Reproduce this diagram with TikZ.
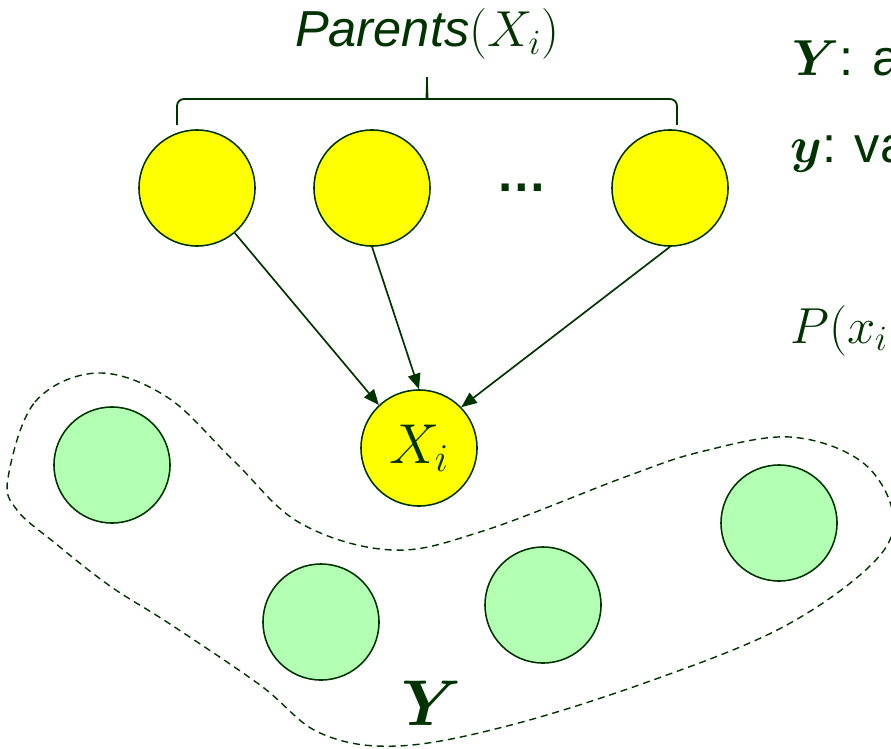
\RequirePackage{fix-cm}
\documentclass[tikz,border=0pt]{standalone}
\usepackage{amsmath}
\usepackage[no-math]{fontspec}
\setmainfont{Liberation Sans}
\usepackage{tikz}
\usetikzlibrary{arrows.meta}
\definecolor{dkgreen}{RGB}{0,51,0}
\definecolor{ylw}{RGB}{255,255,0}
\definecolor{ltgreen}{RGB}{179,255,179}

\begin{document}
\begin{tikzpicture}[x=0.025cm, y=-0.025cm,
    font=\fontsize{36}{40}\selectfont, >={Triangle[length=11pt,width=9pt]},
    var/.style={draw=dkgreen, line width=1.1pt, circle, minimum size=2.9cm, inner sep=0pt, text=dkgreen},
    par/.style={var, fill=ylw},
    obs/.style={var, fill=ltgreen},
    txt/.style={inner sep=0pt, text=dkgreen},
    link/.style={->, draw=dkgreen, line width=1.2pt}]
  \clip (0,0) rectangle (891,748);
  % parents and child
  \node[par] (p1) at (197,188) {};
  \node[par] (p2) at (372,188) {};
  \node[txt, anchor=base] (dots) at (522,191) {\textbf{…}};
  \node[par] (pn) at (670,188) {};
  \node[par] (xi) at (419,448) {\fontsize{40}{44}\selectfont$X_i$};
  \draw[link] (p1.-50) -- (xi.133);
  \draw[link] (p2.south) -- (xi.north);
  \draw[link] (pn.south) -- (xi.44);
  % brace over the parents
  \node[txt, anchor=base] (plbl) at (427,47) {\textit{Parents}$(X_i)$};
  \draw[dkgreen, line width=1.3pt, rounded corners=5pt] (177,125) -- (177,99) -- (420,99)
    .. controls (426,99) and (427,92) .. (427,73) .. controls (427,92) and (428,99) .. (434,99)
    -- (677,99) -- (677,125);
  % the set Y
  \node[obs] (y1) at (112,465) {};
  \node[obs] (y2) at (321,622) {};
  \node[obs] (y3) at (543,605) {};
  \node[obs] (y4) at (779,523) {};
  \draw[dkgreen, line width=1pt, dash pattern=on 5pt off 3.5pt] plot[smooth cycle, tension=0.6] coordinates {
    (8,478) (35,402) (97,373) (167,397) (233,460) (300,523) (392,550) (483,531)
    (625,477) (700,452) (790,437) (862,462) (893,515) (873,563) (783,627) (653,680)
    (511,725) (398,746) (320,733) (260,685) (170,624) (110,586) (55,543) (17,510)};
  \node[txt] (ylbl) at (432,703) {\fontsize{46}{50}\selectfont$\boldsymbol{Y}$};
  % notes on the right
  \node[txt, anchor=base west] (ydef) at (792,76) {$\boldsymbol{Y}$: a};
  \node[txt, anchor=base west] (yval) at (790,162) {$\boldsymbol{y}$: va};
  \node[txt, anchor=base west] (prob) at (790,343) {$P(x_i$};
\end{tikzpicture}
\end{document}
